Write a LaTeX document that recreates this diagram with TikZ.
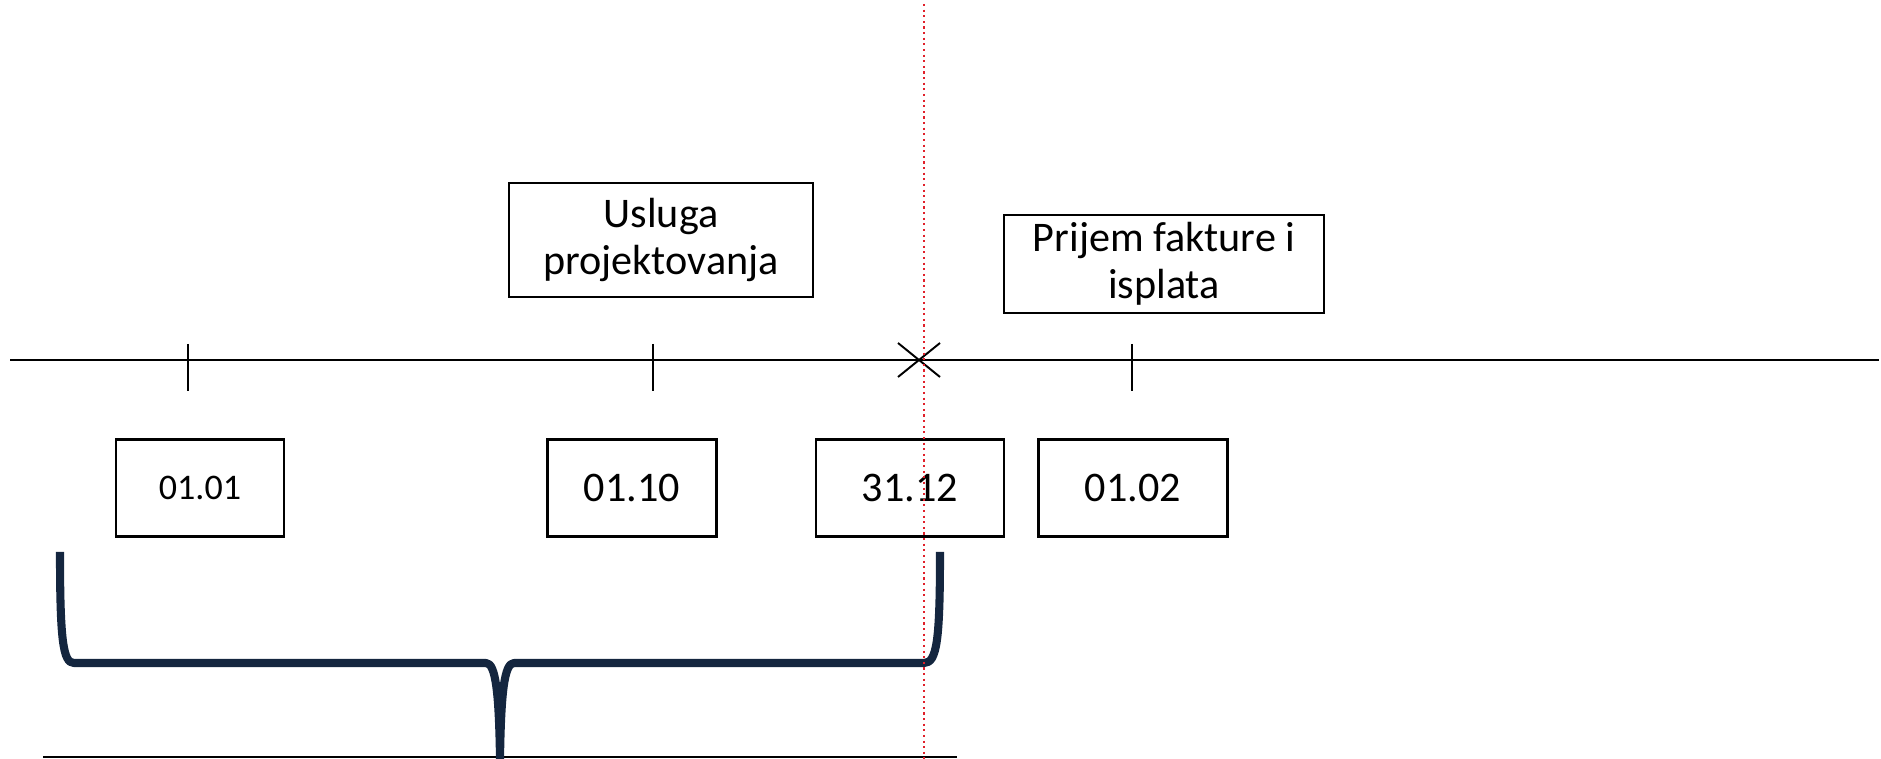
\documentclass[tikz,border=0pt]{standalone}
\usepackage{fontspec}
\setmainfont{Carlito}
\usetikzlibrary{calc}
\definecolor{bracenavy}{HTML}{14263F}
\definecolor{cutred}{HTML}{E0202A}
\definecolor{baseline}{HTML}{B4B4B4}
\tikzstyle{evbox} = [
    rectangle,
    align=center,
    text centered,
    draw=black,
    line width=1.5pt,
    inner sep=0pt,
    font=\fontsize{24}{27}\selectfont,
]
\tikzstyle{datebox} = [evbox, minimum height=1.94cm]
\tikzstyle{tick} = [line width=1.1pt]
\tikzstyle{axis} = [line width=1.6pt]

\begin{document}
\begin{tikzpicture}[x=0.02cm, y=-0.02cm]
    \useasboundingbox (0,0) rectangle (1881,759);
    % time axis
    \coordinate (left) at (10,360);
    \coordinate (right) at (1879,360);
    \draw [axis] (left) -- (right);
    \coordinate (t1) at (188,360);
    \coordinate (t2) at (653,360);
    \coordinate (t3) at (1132,360);
    \coordinate (cut) at (919,360);
    \foreach \t in {t1,t2,t3}
        \draw [tick] ($(\t)+(0,-16)$) -- ($(\t)+(0,31)$);
    \draw [tick] ($(cut)+(-21,-17)$) -- ($(cut)+(21,17)$);
    \draw [tick] ($(cut)+(-21,17)$) -- ($(cut)+(21,-17)$);

    % events above the axis
    \node (usluga) [evbox, minimum width=6.08cm, minimum height=2.28cm]
        at (661,240) {Usluga\\ projektovanja};
    \node (prijem) [evbox, minimum width=6.4cm, minimum height=1.96cm]
        at (1164,264) {Prijem fakture i\\ isplata};

    % dates below the axis
    \node (d0101) [datebox, minimum width=3.36cm, font=\fontsize{20.5}{24}\selectfont]
        at (200,488) {01.01};
    \node (d0110) [datebox, minimum width=3.38cm] at (632,488) {01.10};
    \node (d3112) [datebox, minimum width=3.76cm] at (910,488) {31.12};
    \node (d0102) [datebox, minimum width=3.78cm] at (1133,488) {01.02};

    % grey base line and brace
    \draw [baseline, line width=1.2pt] (43,757) -- (957,757);
    \draw [bracenavy, line width=4.6pt, line join=round, line cap=butt]
        (60,552) .. controls (60,640) and (63,663) .. (74,663)
        -- (486,663) .. controls (496,663) and (499,695) .. (500,759)
        .. controls (501,695) and (504,663) .. (514,663)
        -- (924,663) .. controls (937,663) and (940,640) .. (940,552);

    % year end
    \draw [cutred, line width=1.2pt, dotted] (924,4) -- (924,759);
\end{tikzpicture}
\end{document}
